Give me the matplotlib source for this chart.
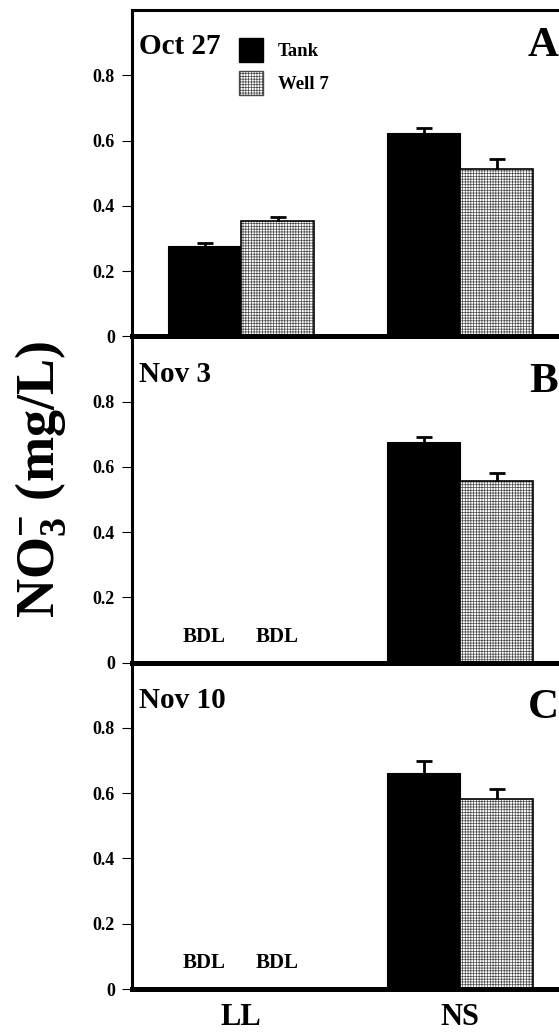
import numpy as np
import matplotlib
matplotlib.use("Agg")
import matplotlib.pyplot as plt
from matplotlib.patches import Patch

plt.rcParams['font.family'] = ['Liberation Serif', 'DejaVu Serif']
plt.rcParams['font.weight'] = 'bold'
plt.rcParams['mathtext.fontset'] = 'custom'
plt.rcParams['mathtext.rm'] = 'Liberation Serif:bold'
plt.rcParams['mathtext.bf'] = 'Liberation Serif:bold'
plt.rcParams['mathtext.it'] = 'Liberation Serif:bold'
plt.rcParams['hatch.linewidth'] = 0.5

# data (NaN = below detection limit)
sites = ['LL', 'NS']
dates = ['Oct 27', 'Nov 3', 'Nov 10']
letters = ['A', 'B', 'C']
tank = [[0.278, 0.624], [np.nan, 0.677], [np.nan, 0.663]]
tank_err = [[0.009, 0.016], [0.0, 0.015], [0.0, 0.035]]
well = [[0.355, 0.513], [np.nan, 0.557], [np.nan, 0.582]]
well_err = [[0.012, 0.032], [0.0, 0.025], [0.0, 0.030]]
yticks = [0, 0.2, 0.4, 0.6, 0.8]
ytick_labels = ['0', '0.2', '0.4', '0.6', '0.8']

HATCH = '++++++'
HATCH_COLOR = '#4a4a4a'

W, H = 559, 1032
fig = plt.figure(figsize=(W / 100, H / 100), dpi=100)

left = 131.5 / W
width = 438 / W
panel_h = 326.3 / H
bottom0 = 1 - 989 / H
bar_w = 73 / 219
x = np.arange(len(sites))


def upper_errorbar(ax, xs, vals, errs):
    """Error bar drawn only above the bar, with a cap on top."""
    ax.errorbar(xs, vals + errs / 2, yerr=errs / 2, fmt='none', ecolor='black',
                elinewidth=2, capsize=0, zorder=3)
    ax.plot(xs, vals + errs, ls='none', marker='_', ms=12, mew=2,
            color='black', zorder=3)


axes = []
for i in range(3):
    b = bottom0 + (2 - i) * panel_h
    ax = fig.add_axes([left, b, width, panel_h])
    ax.set_facecolor('none')
    axes.append(ax)

    t = np.array(tank[i])
    w = np.array(well[i])
    te = np.array(tank_err[i])
    we = np.array(well_err[i])

    ax.bar(x - bar_w / 2, np.nan_to_num(t), bar_w, color='black', edgecolor='black',
           linewidth=0.8, zorder=2)
    ax.bar(x + bar_w / 2, np.nan_to_num(w), bar_w, color='white', edgecolor=HATCH_COLOR,
           hatch=HATCH, linewidth=0, zorder=2)
    ax.bar(x + bar_w / 2, np.nan_to_num(w), bar_w, fill=False, edgecolor='black',
           linewidth=1.2, zorder=2)

    ok = ~np.isnan(t)
    upper_errorbar(ax, (x - bar_w / 2)[ok], t[ok], te[ok])
    ok = ~np.isnan(w)
    upper_errorbar(ax, (x + bar_w / 2)[ok], w[ok], we[ok])

    for j in range(len(sites)):
        if np.isnan(t[j]):
            ax.text(x[j] - bar_w / 2, 0.08, 'BDL', ha='center', va='center',
                    fontsize=15, fontweight='bold')
        if np.isnan(w[j]):
            ax.text(x[j] + bar_w / 2, 0.08, 'BDL', ha='center', va='center',
                    fontsize=15, fontweight='bold')

    ax.set_xlim(-0.5, 1.5)
    ax.set_ylim(0, 1.0)
    ax.set_yticks(yticks)
    ax.set_yticklabels(ytick_labels, fontsize=13, fontweight='bold')
    ax.tick_params(axis='y', direction='out', length=7, width=0.8, pad=5)
    ax.spines['right'].set_visible(False)
    ax.spines['top'].set_visible(i == 0)
    ax.spines['top'].set_linewidth(2.2)
    ax.spines['left'].set_linewidth(2.2)
    ax.spines['bottom'].set_linewidth(3.6)
    ax.spines['bottom'].set_zorder(5)

    if i == 2:
        ax.set_xticks(x)
        ax.set_xticklabels(sites, fontsize=22, fontweight='bold')
        ax.tick_params(axis='x', length=0, pad=10)
    else:
        ax.set_xticks([])

    ax.text(0.017, 0.93 if i == 0 else 0.925, dates[i], transform=ax.transAxes,
            ha='left', va='top', fontsize=21, fontweight='bold')
    ax.text(0.94, 0.89 if i == 0 else 0.86, letters[i], transform=ax.transAxes,
            ha='center', va='center', fontsize=31, fontweight='bold')

handles = [Patch(facecolor='black', edgecolor='black', label='Tank'),
           Patch(facecolor='white', edgecolor=HATCH_COLOR, hatch=HATCH, label='Well 7')]
axes[0].legend(handles=handles, loc='upper left', bbox_to_anchor=(0.245, 0.915),
               frameon=False, fontsize=13.5, handlelength=1.3, handleheight=1.6,
               handletextpad=0.8, labelspacing=0.5, borderpad=0, borderaxespad=0)

fig.text(0.072, 1 - 480 / H, 'NO$_3^{-}$ (mg/L)', rotation=90, ha='center', va='center',
         fontsize=39, fontweight='bold')

fig.savefig('out.png', dpi=100)
